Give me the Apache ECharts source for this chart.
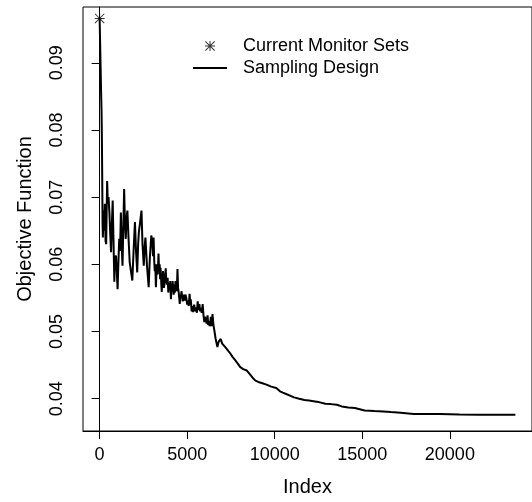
<!DOCTYPE html>
<html>
<head>
<meta charset="utf-8">
<script src="https://cdn.jsdelivr.net/npm/echarts@6/dist/echarts.min.js"></script>
<style>
html,body{margin:0;padding:0;background:#fff;}
#chart{width:532px;height:502px;}
</style>
</head>
<body>
<div id="chart"></div>
<script>
// Index positions of the sampling-design trace
var indexValues = [1,30,60,90,110,130,150,170,187,230,260,300,340,374,430,470,510,560,600,654,700,747,790,841,880,934,980,1028,1070,1121,1170,1214,1260,1308,1350,1401,1450,1495,1540,1588,1650,1719,1790,1868,1940,2018,2080,2148,2200,2242,2300,2391,2450,2522,2570,2616,2700,2802,2870,2952,
3020,3050,3083,3120,3150,3180,3214,3250,3290,3320,3363,3390,3410,3430,3456,3480,3500,3525,3550,3575,3600,3620,3643,3670,3700,3740,3774,3810,3850,3885,3923,3960,4000,4035,4073,4105,4140,4170,4204,4230,4250,4275,4297,4335,4370,4410,4447,4480,4510,4545,4578,4610,4640,4675,4708,4745,4780,4820,4858,4900,4950,5000,5044,5090,5138,5180,5205,5231,5255,5280,5300,5324,5360,5400,5455,5511,5555,5600,5650,5698,5740,5780,5830,5885,5930,5978,6020,6060,6110,6165,6200,6240,6280,6315,6350,6380,6410,6446,6500,6539,
6620,6726,6800,6913,7000,7100,7200,7287,7380,7473,7600,7753,7900,8034,8200,8407,8600,8781,8900,9061,9300,9528,9800,10089,10300,10463,10650,10836,11100,11397,11700,11957,12300,12518,12892,13200,13547,13827,14200,14573,15134,15694,16200,16630,17190,17936,19432,20553,21674,23741];
// Objective function values of the sampling-design trace
var objectiveValues = [0.0966,0.0930,0.0890,0.0850,0.0830,0.0790,0.0727,0.0660,0.0640,0.0680,0.0650,0.0690,0.0635,0.0630,0.0724,0.0690,0.0700,0.0677,0.0650,0.0618,0.0660,0.0695,0.0640,0.0574,0.0610,0.0613,0.0590,0.0563,0.0600,0.0638,0.0620,0.0677,0.0630,0.0598,0.0650,0.0712,0.0660,0.0638,0.0670,0.0680,0.0640,0.0603,0.0590,0.0576,0.0620,0.0663,0.0620,0.0588,0.0630,0.0648,0.0660,0.0680,0.0630,0.0598,0.0625,0.0640,0.0600,0.0566,0.0610,0.0643,
0.0630,0.0612,0.0640,0.0605,0.0590,0.0600,0.0566,0.0590,0.0600,0.0585,0.0616,0.0595,0.0590,0.0600,0.0578,0.0595,0.0585,0.0570,0.0559,0.0580,0.0575,0.0590,0.0583,0.0565,0.0570,0.0580,0.0594,0.0575,0.0570,0.0580,0.0558,0.0572,0.0565,0.0575,0.0548,0.0565,0.0560,0.0575,0.0573,0.0555,0.0560,0.0570,0.0558,0.0575,0.0570,0.0560,0.0593,0.0565,0.0560,0.0550,0.0541,0.0555,0.0550,0.0560,0.0561,0.0545,0.0548,0.0555,0.0546,0.0555,0.0550,0.0540,0.0546,0.0538,0.0556,0.0540,0.0548,0.0539,0.0530,0.0532,0.0538,0.0529,0.0535,0.0540,0.0530,0.0536,0.0528,0.0545,0.0532,0.0541,0.0530,0.0535,0.0528,0.0541,0.0525,0.0514,0.0522,0.0520,0.0512,0.0524,0.0510,0.0516,0.0508,0.0511,0.0522,0.0520,0.0508,0.0526,0.0510,0.0504,
0.0490,0.0477,0.0485,0.0489,0.0482,0.0479,0.0476,0.0474,0.0470,0.0467,0.0462,0.0457,0.0452,0.0447,0.0444,0.0442,0.0436,0.0430,0.0427,0.0425,0.0423,0.0421,0.0418,0.0416,0.0411,0.0409,0.0407,0.0405,0.0402,0.0400,0.0398,0.03975,0.0396,0.0395,0.03926,0.0392,0.0391,0.03886,0.0387,0.03861,0.03826,0.03817,0.0381,0.03802,0.03792,0.03773,0.03773,0.03767,0.03762,0.03762];
// Current monitor sets (single point)
var currentIndex = [1];
var currentValue = [0.0966];
// Tick labels
var xTicks = [0,5000,10000,15000,20000];
var yTicks = [0.04,0.05,0.06,0.07,0.08,0.09];

var designData = indexValues.map(function(x,i){return [x, objectiveValues[i]];});
var currentData = currentIndex.map(function(x,i){return [x, currentValue[i]];});

var FONT = '"Liberation Sans", Arial, Helvetica, sans-serif';
var star = 'path://M9,0L11,0L11,20L9,20Z M0,9L20,9L20,11L0,11Z M0,1.4L1.4,0L20,18.6L18.6,20Z M18.6,0L20,1.4L1.4,20L0,18.6Z';
var lineIcon = 'path://M0,0L34,0L34,2L0,2Z';

var chart = echarts.init(document.getElementById('chart'), null, {renderer:'canvas'});
chart.setOption({
  animation:false,
  backgroundColor:'#fff',
  textStyle:{fontFamily:FONT},
  grid:{left:83,top:7,right:-8,bottom:70,show:true,borderColor:'#000',borderWidth:1,backgroundColor:'transparent'},
  legend:{
    orient:'vertical', left:193, top:37, padding:0, itemWidth:34, itemHeight:10, itemGap:4,
    textStyle:{fontFamily:FONT,fontSize:18,color:'#000',padding:[0,0,0,11]},
    data:[{name:'Current Monitor Sets'},{name:'Sampling Design', icon:lineIcon}]
  },
  xAxis:{
    type:'value', min:-948, max:24690,
    name:'Index', nameLocation:'middle', nameGap:46,
    nameTextStyle:{fontFamily:FONT,fontSize:20,color:'#000'},
    axisLine:{show:true,lineStyle:{color:'#000',width:1}},
    axisTick:{show:true,length:8,lineStyle:{color:'#000'},customValues:xTicks},
    axisLabel:{fontFamily:FONT,fontSize:18,color:'#000',margin:15,customValues:xTicks,
      formatter:function(v){return String(v);}},
    splitLine:{show:false}
  },
  yAxis:{
    type:'value', min:0.0352, max:0.0983,
    name:'Objective Function', nameLocation:'middle', nameGap:48,
    nameTextStyle:{fontFamily:FONT,fontSize:20,color:'#000'},
    axisLine:{show:true,lineStyle:{color:'#000',width:1}},
    axisTick:{show:true,length:8,lineStyle:{color:'#000'},customValues:yTicks},
    axisLabel:{fontFamily:FONT,fontSize:18,color:'#000',margin:17,rotate:90,customValues:yTicks,
      formatter:function(v){return v.toFixed(2);}},
    splitLine:{show:false}
  },
  series:[
    {name:'Sampling Design', type:'line', data:designData, symbol:'none',
     lineStyle:{color:'#000',width:2}, itemStyle:{color:'#000'}, z:2},
    {name:'Current Monitor Sets', type:'scatter', data:currentData, symbol:star, symbolSize:10,
     itemStyle:{color:'#000'}, z:3}
  ]
});
</script>
</body>
</html>
